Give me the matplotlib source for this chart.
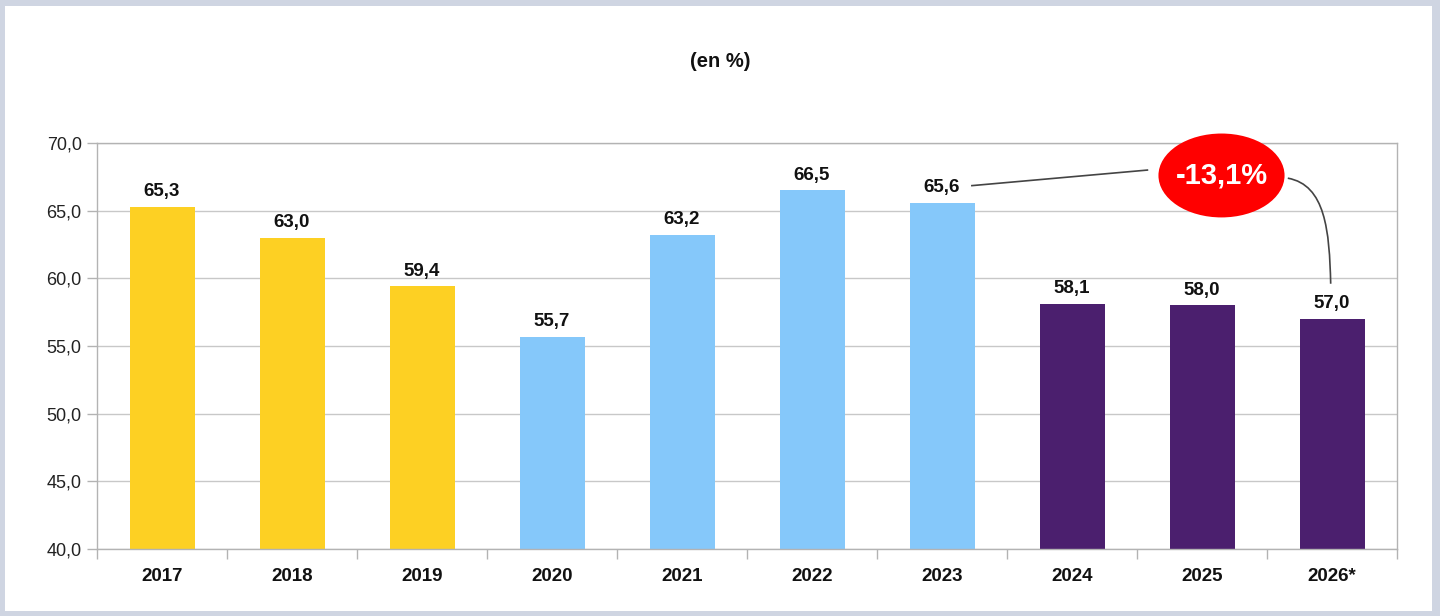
import matplotlib
matplotlib.use('Agg')
import matplotlib.pyplot as plt
from matplotlib.patches import Ellipse, Rectangle, PathPatch
from matplotlib.path import Path

plt.rcParams['font.family'] = ['Liberation Sans', 'DejaVu Sans']

years = ['2017', '2018', '2019', '2020', '2021', '2022', '2023', '2024', '2025', '2026*']
values = [65.3, 63.0, 59.4, 55.7, 63.2, 66.5, 65.6, 58.1, 58.0, 57.0]
groups = [0, 0, 0, 1, 1, 1, 1, 2, 2, 2]
group_colors = ['#FDD023', '#85C8FA', '#4B1F6E']
change_label = '-13,1%'


def fmt(v):
	return ('%.1f' % v).replace('.', ',')


fig = plt.figure(figsize=(14.4, 6.16), dpi=100, facecolor='#CFD5E2')
# white card inside the grey-blue frame
fig.patches.append(Rectangle((5 / 1440, 5 / 616), 1427 / 1440, 605 / 616,
	transform=fig.transFigure, facecolor='white', edgecolor='none', zorder=-10))

ax = fig.add_axes([97 / 1440, 67 / 616, 1300 / 1440, 406 / 616])
ax.set_facecolor('white')

x = list(range(len(years)))
bars = ax.bar(x, values, width=0.5, color=[group_colors[g] for g in groups], zorder=2)

for xi, v in zip(x, values):
	ax.text(xi, v + 0.5, fmt(v), ha='center', va='bottom', fontsize=13.5, fontweight='bold', color='#111111')

ax.set_xlim(-0.5, len(years) - 0.5)
ax.set_ylim(40, 70)
ax.set_yticks(range(40, 71, 5))
ax.set_yticklabels([fmt(t) for t in range(40, 71, 5)], fontsize=13, color='#222222')
ax.set_xticks(x)
ax.set_xticklabels(years, fontsize=13.5, fontweight='bold', color='#111111')
ax.set_xticks([i - 0.5 for i in range(len(years) + 1)], minor=True)
ax.tick_params(axis='x', which='major', length=0, pad=14)
ax.tick_params(axis='x', which='minor', length=7, color='#B3B3B3', width=1)
ax.tick_params(axis='y', length=7, color='#B3B3B3', width=1, pad=4)
ax.yaxis.grid(True, color='#C8C8C8', linewidth=1, zorder=1)
ax.set_axisbelow(True)
for s in ax.spines.values():
	s.set_color('#B3B3B3')
	s.set_linewidth(1)

fig.text(0.5, 0.9, '(en %)', ha='center', va='center', fontsize=14.5, fontweight='bold', color='#111111')

# red bubble with the 2023 -> 2026 change
ax.add_patch(Ellipse((8.15, 67.6), 0.97, 6.2, facecolor='#FF0000', edgecolor='none', clip_on=False, zorder=4))
ax.text(8.15, 67.6, change_label, ha='center', va='center', fontsize=21, fontweight='bold', color='white', zorder=5)

ax.plot([6.23, 7.58], [66.85, 68.0], color='#444444', linewidth=1.2, zorder=3, clip_on=False)
curve = Path([(8.66, 67.4), (8.95, 66.9), (8.98, 63.5), (8.99, 59.6)],
	[Path.MOVETO, Path.CURVE4, Path.CURVE4, Path.CURVE4])
ax.add_patch(PathPatch(curve, facecolor='none', edgecolor='#444444', linewidth=1.2, zorder=3, clip_on=False))

fig.savefig('out.png', dpi=100, facecolor=fig.get_facecolor())
